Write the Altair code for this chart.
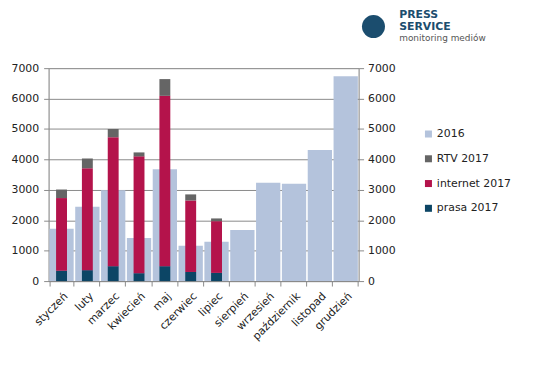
import altair as alt
import pandas as pd

months = ["styczeń", "luty", "marzec", "kwiecień", "maj", "czerwiec", "lipiec",
          "sierpień", "wrzesień", "październik", "listopad", "grudzień"]
v2016 = [1720, 2440, 2990, 1420, 3680, 1160, 1290, 1680, 3230, 3200, 4310, 6730]
prasa2017 = [340, 360, 490, 260, 490, 300, 270]
internet2017 = [2390, 3350, 4240, 3840, 5600, 2350, 1700]
rtv2017 = [280, 320, 270, 130, 550, 200, 90]

series = ["2016", "RTV 2017", "internet 2017", "prasa 2017"]
colors = ["#b4c3dc", "#656565", "#b4134b", "#0c4565"]

df16 = pd.DataFrame({"month": months, "value": v2016, "series": "2016"})
rows = []
for i in range(len(prasa2017)):
    rows.append({"month": months[i], "value": prasa2017[i], "series": "prasa 2017", "ord": 0})
    rows.append({"month": months[i], "value": internet2017[i], "series": "internet 2017", "ord": 1})
    rows.append({"month": months[i], "value": rtv2017[i], "series": "RTV 2017", "ord": 2})
df17 = pd.DataFrame(rows)

FONT = "DejaVu Sans"
TXT = "#222222"
GRID = "#8a8a8a"
LOGO = "#1b4d6e"

xenc = alt.X("month:N", sort=months, title=None,
             scale=alt.Scale(paddingInner=0.06, paddingOuter=0.03),
             axis=alt.Axis(labelAngle=-45, labelFontSize=11, labelColor=TXT, labelFont=FONT,
                           tickBand="extent", tickSize=5, tickColor=GRID, domainColor=GRID,
                           labelPadding=4))
color = alt.Color("series:N", scale=alt.Scale(domain=series, range=colors),
                  legend=alt.Legend(title=None, orient="none", legendX=378, legendY=61,
                                    symbolType="square", symbolSize=50, symbolStrokeWidth=0,
                                    labelFontSize=11, labelFont=FONT, labelColor=TXT,
                                    rowPadding=13, labelOffset=3))

base16 = alt.Chart(df16).mark_bar().encode(
    x=xenc,
    y=alt.Y("value:Q", title=None, scale=alt.Scale(domain=[0, 7000]),
            axis=alt.Axis(orient="left", values=list(range(0, 7001, 1000)), format="d",
                          labelFontSize=11, labelColor=TXT, labelFont=FONT, grid=True,
                          gridColor=GRID, tickColor=GRID, domainColor=GRID, tickSize=5,
                          labelPadding=5)),
    color=color,
)

bars17 = alt.Chart(df17).mark_bar(width=11).encode(
    x=alt.X("month:N", sort=months),
    y=alt.Y("value:Q", stack="zero", title=None, scale=alt.Scale(domain=[0, 7000]),
            axis=alt.Axis(orient="right", values=list(range(0, 7001, 1000)), format="d",
                          labelFontSize=11, labelColor=TXT, labelFont=FONT, grid=False,
                          tickColor=GRID, domainColor=GRID, tickSize=5, labelPadding=4)),
    color=color,
    order=alt.Order("ord:Q"),
)

one = pd.DataFrame({"a": [0]})
logo_circle = alt.Chart(one).mark_circle(size=540, color=LOGO, opacity=1).encode(
    x=alt.value(328), y=alt.value(-42))
logo_press = alt.Chart(one).mark_text(text="PRESS", font=FONT, fontSize=11, fontWeight="bold",
                                      color=LOGO, align="left", baseline="middle").encode(
    x=alt.value(354), y=alt.value(-54))
logo_service = alt.Chart(one).mark_text(text="SERVICE", font=FONT, fontSize=11, fontWeight="bold",
                                        color=LOGO, align="left", baseline="middle").encode(
    x=alt.value(354), y=alt.value(-42))
logo_sub = alt.Chart(one).mark_text(text="monitoring mediów", font=FONT, fontSize=9,
                                    color="#555555", align="left", baseline="middle").encode(
    x=alt.value(354), y=alt.value(-30))

chart = alt.layer(base16, bars17, logo_circle, logo_press, logo_service, logo_sub).resolve_scale(
    y="independent"
).properties(
    width=313, height=215,
    autosize=alt.AutoSizeParams(type="none"),
    padding={"left": 41, "top": 59, "right": 170, "bottom": 85},
).configure_view(stroke=None).configure(background="white")

chart.save("out.html", embed_options={"renderer": "svg", "actions": False})
